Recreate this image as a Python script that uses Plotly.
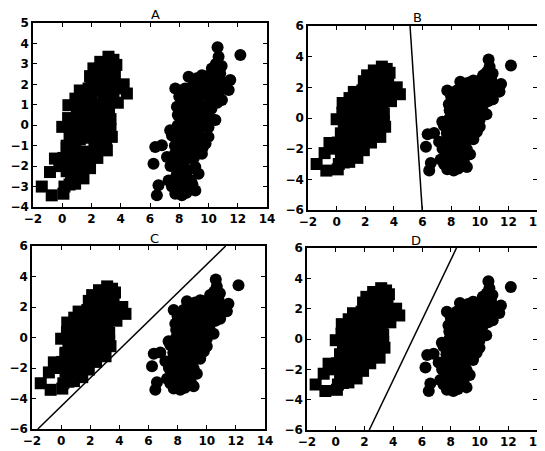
import plotly.graph_objects as go

# ---- data: class 1 (squares) ----
sq_x = [-1.4, -0.72, 0.08, 0.15, -0.84, -0.5, 0.08, 0.3, 0.6, 0.88, 1.2, 1.45, 1.9,
        0.0, 0.42, 0.4, 0.7, 0.9, 1.0, 1.5, 1.7, 1.2, 1.0, 1.3, 1.2, 1.6, 1.8, 1.6,
        1.8, 1.5, 2.0, 2.3, 2.13, 2.6, 2.5, 2.1, 2.3, 2.2, 2.6, 3.05, 3.39, 3.3,
        3.0, 2.6, 2.8, 3.1, 2.9, 3.16, 3.7, 3.6, 4.2, 4.42, 3.8, 3.5, 3.2, 2.4,
        1.9, 1.0, 0.6, 0.8, 0.5, 1.3, 2.7, 3.0, 2.0, 1.4, 0.9, 0.3, 0.7, 2.5,
        0.5, -0.2, 0.6, 1.2, 0.3, 0.9, 2.0, 2.4, 0.5, 1.5, 2.0, 2.7, 0.9, 1.9,
        2.5, 3.3, 1.0, 2.2, 3.0, 1.2, 1.8, 2.7, 3.4, 3.9, 1.9, 2.9, 3.2, 2.6,
        3.0, 3.5]
sq_y = [-3.0, -3.43, -3.35, -3.0, -2.29, -1.63, -1.6, -2.25, -2.35, -2.86, -2.4, -2.6, -2.1,
        -0.08, 0.98, 0.35, -0.3, -1.1, -1.9, -2.0, -1.8, 1.2, 0.6, 0.0, -0.7, -1.3, -0.6, 0.4,
        1.0, 1.5, 1.5, 2.2, 2.78, 2.8, 2.3, 0.4, -0.3, -1.0, -1.2, -1.23, -0.57, -0.2,
        0.2, 0.7, 1.3, 1.8, 2.1, 3.35, 2.95, 2.5, 2.0, 1.55, 1.1, 1.5, 0.8, 1.7,
        -0.1, -0.2, 0.1, -0.8, -1.5, -1.5, 0.0, -0.7, 2.0, 0.9, 1.3, -1.0, -1.9, -0.6,
        -2.9, -2.0, -1.9, -2.0, -1.1, -1.5, -1.3, -1.6, -0.5, -0.4, -0.6, -0.5, 0.2, 0.5,
        0.3, 0.3, 1.0, 1.0, 1.0, 1.7, 1.8, 1.8, 2.0, 1.8, 2.4, 2.6, 2.4, 3.1,
        2.9, 3.2]

# ---- data: class 2 (circles) ----
ci_x = [10.62, 10.69, 12.18, 8.64, 7.73, 11.49, 11.38, 6.36, 6.81, 6.24, 6.58, 6.47,
        8.18, 9.1, 9.32, 7.73, 7.27, 7.16, 7.38, 7.84, 8.41, 9.55, 10.23, 10.8, 10.92,
        10.47, 10.0, 9.55, 9.1, 8.41, 7.84,
        7.6, 8.0, 8.3, 8.7, 9.0, 8.5, 8.0, 7.7, 7.9, 8.3, 8.7, 9.2, 9.5, 9.0, 8.6,
        8.2, 9.0, 9.4, 9.8, 10.2, 9.8, 9.4, 10.0, 10.4, 10.6, 10.2, 8.8, 8.0, 7.9,
        8.5, 7.5, 7.6, 8.9, 9.2, 10.0, 9.6, 8.4, 7.8, 9.1, 10.6, 11.0, 8.1, 8.9,
        9.7, 10.3, 9.3, 8.6, 7.4, 10.9,
        7.5, 8.1, 8.6, 8.3, 8.8, 9.4, 9.8, 7.9, 8.6, 9.2, 9.6, 10.1, 8.6, 9.4,
        10.3, 10.7, 9.7, 10.5, 8.0, 8.2, 7.6, 8.9, 9.9, 10.4,
        8.9, 9.0, 8.4, 7.7, 7.95, 8.2, 9.3, 9.6, 8.8, 8.0, 8.4, 8.8, 9.3, 9.6,
        10.0, 10.1, 10.0, 9.6, 8.4, 8.8, 9.2, 9.5, 10.4, 10.8]
ci_y = [3.81, 3.35, 3.43, 2.37, 1.8, 2.21, 1.72, -1.06, -0.98, -1.88, -2.94, -3.43,
        -3.43, -3.19, -2.37, -3.35, -2.7, -1.55, -0.25, 0.9, 1.55, 2.45, 2.78, 2.53, 1.23,
        0.25, -0.57, -1.39, -2.04, -2.53, -2.4,
        -2.0, -1.5, -2.0, -1.6, -1.2, -0.8, -0.7, -1.0, 0.0, 0.3, 0.0, -0.4, -0.6, 0.6, 0.9,
        1.0, 1.4, 1.0, 0.4, 0.8, 1.5, 1.9, 2.1, 1.6, 2.2, 2.5, -2.7, -2.8, -3.1,
        -3.3, -0.5, -1.6, 1.9, 2.3, -0.1, 0.0, -1.2, -2.5, -0.8, 1.1, 2.0, 0.4, -0.3,
        0.9, 1.9, 0.3, -2.2, -2.0, 2.9,
        -3.0, -2.2, -2.9, -0.4, -0.5, -0.2, -0.9, 0.5, 0.4, 0.2, 0.5, 0.3, 1.4, 1.5,
        1.2, 1.6, 2.4, 3.0, 1.4, -0.2, -0.4, 0.8, 1.8, 2.2,
        -2.9, -1.6, -1.7, -1.4, -2.0, -1.0, -1.0, -1.1, -1.0, 0.7, 0.6, 1.1, 1.2, 0.9,
        1.0, 1.7, 0.6, 1.7, 1.8, 1.6, 1.8, 2.2, 2.4, 2.2]

# ---- separating lines (endpoints) ----
line_b_x = [5.13, 5.98]
line_b_y = [6, -6]
line_c_x = [-1.6, 11.3]
line_c_y = [-6, 6]
line_d_x = [2.33, 8.4]
line_d_y = [-6, 6]

x_ticks = [-2, 0, 2, 4, 6, 8, 10, 12, 14]
y_ticks_a = [-4, -3, -2, -1, 0, 1, 2, 3, 4, 5]
y_ticks_bcd = [-6, -4, -2, 0, 2, 4, 6]
titles = ["A", "B", "C", "D"]

# the page body has an 8px margin, so the figure is drawn 8px smaller and offset
OFF = 8
W, H = 545 - OFF, 451 - OFF
# panel pixel boxes in window coords: left, right, top, bottom
boxes = [(33, 267, 23, 207), (308, 537, 26, 210), (32, 265, 246, 429), (307, 537, 248, 430)]

fig = go.Figure()
font = dict(family="DejaVu Sans", size=12, color="black", weight="bold")

lines = [None, (line_b_x, line_b_y), (line_c_x, line_c_y), (line_d_x, line_d_y)]

for i, (l, r, t, b) in enumerate(boxes):
    l, r, t, b = l - OFF, r - OFF, t - OFF, b - OFF
    n = "" if i == 0 else str(i + 1)
    xa, ya = "x" + n, "y" + n
    fig.add_trace(go.Scatter(x=sq_x, y=sq_y, mode="markers", xaxis=xa, yaxis=ya,
                             marker=dict(symbol="square", size=12, color="black",
                                         line=dict(width=0)),
                             showlegend=False))
    fig.add_trace(go.Scatter(x=ci_x, y=ci_y, mode="markers", xaxis=xa, yaxis=ya,
                             marker=dict(symbol="circle", size=12, color="black",
                                         line=dict(width=0)),
                             showlegend=False))
    if lines[i] is not None:
        fig.add_trace(go.Scatter(x=lines[i][0], y=lines[i][1], mode="lines",
                                 xaxis=xa, yaxis=ya, line=dict(color="black", width=1.5),
                                 showlegend=False))
    yt = y_ticks_a if i == 0 else y_ticks_bcd
    yr = [-4, 5] if i == 0 else [-6, 6]
    common = dict(showline=True, linecolor="black", linewidth=1.5, mirror="allticks",
                  ticks="inside", ticklen=4, tickwidth=1, tickcolor="black",
                  showgrid=False, zeroline=False, tickfont=font, automargin=False,
                  ticklabeloverflow="allow")
    fig.update_layout(**{
        ("xaxis" + n): dict(domain=[l / W, r / W], range=[-2, 14], tickvals=x_ticks,
                            anchor=ya, **common),
        ("yaxis" + n): dict(domain=[1 - b / H, 1 - t / H], range=yr, tickvals=yt,
                            anchor=xa, **common),
    })
    fig.add_annotation(x=(l + r) / 2 / W, y=1 - (t - 8) / H, xref="paper", yref="paper",
                       text=titles[i], showarrow=False,
                       font=dict(family="DejaVu Sans", size=13, color="black"),
                       yanchor="middle", borderpad=0)

fig.update_layout(width=W, height=H, margin=dict(l=0, r=0, t=0, b=0),
                  paper_bgcolor="white", plot_bgcolor="white")
fig.write_html("out.html")
